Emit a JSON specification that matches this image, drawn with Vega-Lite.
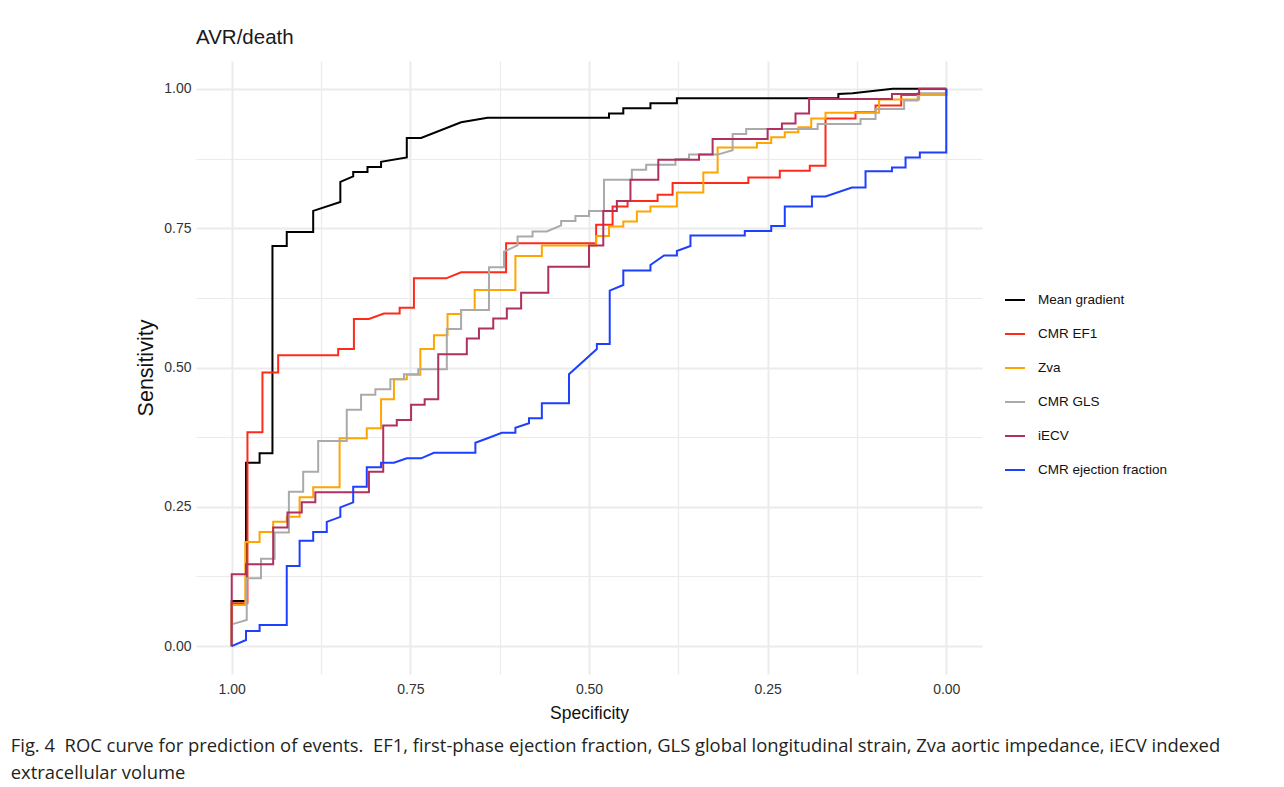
{
"$schema": "https://vega.github.io/schema/vega-lite/v6.json",
"background": "white",
"padding": {"left": 10, "top": 27, "right": 0, "bottom": 0},
"config": {"font": "Liberation Sans", "view": {"stroke": null}},
"title": {"text": ["Fig. 4\u00a0\u00a0ROC curve for prediction of events.\u00a0\u00a0EF1, first-phase ejection fraction, GLS global longitudinal strain, Zva aortic impedance, iECV indexed", "extracellular volume"], "orient": "bottom", "anchor": "start", "frame": "bounds", "dx": -125, "offset": 15, "font": "Open Sans", "fontSize": 18.4, "fontWeight": "normal", "color": "#231f20", "lineHeight": 27},
"vconcat": [{
"width": 786, "height": 613,
"title": {"text": "AVR/death", "anchor": "start", "frame": "group", "font": "Liberation Sans", "fontSize": 20.5, "fontWeight": "normal", "color": "#1a1a1a", "offset": 13},
"data": {"values": [
{"series":"Mean gradient","spec":1,"sens":0},{"series":"Mean gradient","spec":1,"sens":0.081},{"series":"Mean gradient","spec":0.980,"sens":0.081},{"series":"Mean gradient","spec":0.980,"sens":0.329},{"series":"Mean gradient","spec":0.961,"sens":0.329},{"series":"Mean gradient","spec":0.961,"sens":0.346},{"series":"Mean gradient","spec":0.943,"sens":0.346},{"series":"Mean gradient","spec":0.943,"sens":0.718},{"series":"Mean gradient","spec":0.923,"sens":0.718},{"series":"Mean gradient","spec":0.923,"sens":0.743},{"series":"Mean gradient","spec":0.886,"sens":0.743},{"series":"Mean gradient","spec":0.886,"sens":0.781},{"series":"Mean gradient","spec":0.848,"sens":0.797},{"series":"Mean gradient","spec":0.848,"sens":0.833},{"series":"Mean gradient","spec":0.830,"sens":0.843},{"series":"Mean gradient","spec":0.830,"sens":0.851},{"series":"Mean gradient","spec":0.810,"sens":0.851},{"series":"Mean gradient","spec":0.810,"sens":0.860},{"series":"Mean gradient","spec":0.791,"sens":0.860},{"series":"Mean gradient","spec":0.791,"sens":0.869},{"series":"Mean gradient","spec":0.755,"sens":0.877},{"series":"Mean gradient","spec":0.755,"sens":0.912},{"series":"Mean gradient","spec":0.735,"sens":0.912},{"series":"Mean gradient","spec":0.679,"sens":0.940},{"series":"Mean gradient","spec":0.642,"sens":0.948},{"series":"Mean gradient","spec":0.472,"sens":0.948},{"series":"Mean gradient","spec":0.472,"sens":0.956},{"series":"Mean gradient","spec":0.452,"sens":0.956},{"series":"Mean gradient","spec":0.452,"sens":0.965},{"series":"Mean gradient","spec":0.414,"sens":0.965},{"series":"Mean gradient","spec":0.414,"sens":0.974},{"series":"Mean gradient","spec":0.377,"sens":0.974},{"series":"Mean gradient","spec":0.377,"sens":0.983},{"series":"Mean gradient","spec":0.151,"sens":0.983},{"series":"Mean gradient","spec":0.151,"sens":0.991},{"series":"Mean gradient","spec":0.131,"sens":0.992},{"series":"Mean gradient","spec":0.075,"sens":1},{"series":"Mean gradient","spec":0,"sens":1},
{"series":"CMR EF1","spec":1,"sens":0},{"series":"CMR EF1","spec":1,"sens":0.077},{"series":"CMR EF1","spec":0.978,"sens":0.077},{"series":"CMR EF1","spec":0.978,"sens":0.384},{"series":"CMR EF1","spec":0.957,"sens":0.384},{"series":"CMR EF1","spec":0.957,"sens":0.491},{"series":"CMR EF1","spec":0.935,"sens":0.491},{"series":"CMR EF1","spec":0.935,"sens":0.522},{"series":"CMR EF1","spec":0.851,"sens":0.522},{"series":"CMR EF1","spec":0.851,"sens":0.533},{"series":"CMR EF1","spec":0.829,"sens":0.533},{"series":"CMR EF1","spec":0.829,"sens":0.587},{"series":"CMR EF1","spec":0.808,"sens":0.587},{"series":"CMR EF1","spec":0.787,"sens":0.597},{"series":"CMR EF1","spec":0.765,"sens":0.597},{"series":"CMR EF1","spec":0.765,"sens":0.607},{"series":"CMR EF1","spec":0.745,"sens":0.607},{"series":"CMR EF1","spec":0.745,"sens":0.660},{"series":"CMR EF1","spec":0.700,"sens":0.660},{"series":"CMR EF1","spec":0.679,"sens":0.671},{"series":"CMR EF1","spec":0.616,"sens":0.671},{"series":"CMR EF1","spec":0.616,"sens":0.723},{"series":"CMR EF1","spec":0.490,"sens":0.723},{"series":"CMR EF1","spec":0.490,"sens":0.756},{"series":"CMR EF1","spec":0.467,"sens":0.756},{"series":"CMR EF1","spec":0.467,"sens":0.789},{"series":"CMR EF1","spec":0.446,"sens":0.789},{"series":"CMR EF1","spec":0.446,"sens":0.799},{"series":"CMR EF1","spec":0.404,"sens":0.799},{"series":"CMR EF1","spec":0.404,"sens":0.810},{"series":"CMR EF1","spec":0.383,"sens":0.810},{"series":"CMR EF1","spec":0.383,"sens":0.831},{"series":"CMR EF1","spec":0.277,"sens":0.831},{"series":"CMR EF1","spec":0.277,"sens":0.841},{"series":"CMR EF1","spec":0.233,"sens":0.841},{"series":"CMR EF1","spec":0.233,"sens":0.853},{"series":"CMR EF1","spec":0.191,"sens":0.853},{"series":"CMR EF1","spec":0.191,"sens":0.862},{"series":"CMR EF1","spec":0.169,"sens":0.862},{"series":"CMR EF1","spec":0.169,"sens":0.947},{"series":"CMR EF1","spec":0.127,"sens":0.947},{"series":"CMR EF1","spec":0.127,"sens":0.958},{"series":"CMR EF1","spec":0.099,"sens":0.958},{"series":"CMR EF1","spec":0.099,"sens":0.970},{"series":"CMR EF1","spec":0.063,"sens":0.970},{"series":"CMR EF1","spec":0.063,"sens":0.989},{"series":"CMR EF1","spec":0,"sens":0.989},{"series":"CMR EF1","spec":0,"sens":1},
{"series":"Zva","spec":1,"sens":0},{"series":"Zva","spec":1,"sens":0.074},{"series":"Zva","spec":0.981,"sens":0.074},{"series":"Zva","spec":0.981,"sens":0.187},{"series":"Zva","spec":0.961,"sens":0.187},{"series":"Zva","spec":0.961,"sens":0.205},{"series":"Zva","spec":0.942,"sens":0.205},{"series":"Zva","spec":0.942,"sens":0.223},{"series":"Zva","spec":0.923,"sens":0.223},{"series":"Zva","spec":0.923,"sens":0.232},{"series":"Zva","spec":0.905,"sens":0.232},{"series":"Zva","spec":0.905,"sens":0.267},{"series":"Zva","spec":0.886,"sens":0.267},{"series":"Zva","spec":0.886,"sens":0.285},{"series":"Zva","spec":0.849,"sens":0.285},{"series":"Zva","spec":0.849,"sens":0.373},{"series":"Zva","spec":0.811,"sens":0.373},{"series":"Zva","spec":0.811,"sens":0.391},{"series":"Zva","spec":0.791,"sens":0.391},{"series":"Zva","spec":0.791,"sens":0.443},{"series":"Zva","spec":0.773,"sens":0.443},{"series":"Zva","spec":0.773,"sens":0.479},{"series":"Zva","spec":0.755,"sens":0.479},{"series":"Zva","spec":0.755,"sens":0.487},{"series":"Zva","spec":0.736,"sens":0.487},{"series":"Zva","spec":0.736,"sens":0.533},{"series":"Zva","spec":0.717,"sens":0.533},{"series":"Zva","spec":0.717,"sens":0.558},{"series":"Zva","spec":0.698,"sens":0.558},{"series":"Zva","spec":0.698,"sens":0.596},{"series":"Zva","spec":0.679,"sens":0.596},{"series":"Zva","spec":0.679,"sens":0.603},{"series":"Zva","spec":0.660,"sens":0.603},{"series":"Zva","spec":0.660,"sens":0.639},{"series":"Zva","spec":0.603,"sens":0.639},{"series":"Zva","spec":0.603,"sens":0.700},{"series":"Zva","spec":0.566,"sens":0.700},{"series":"Zva","spec":0.566,"sens":0.719},{"series":"Zva","spec":0.490,"sens":0.719},{"series":"Zva","spec":0.490,"sens":0.736},{"series":"Zva","spec":0.472,"sens":0.736},{"series":"Zva","spec":0.472,"sens":0.753},{"series":"Zva","spec":0.452,"sens":0.753},{"series":"Zva","spec":0.452,"sens":0.762},{"series":"Zva","spec":0.433,"sens":0.762},{"series":"Zva","spec":0.433,"sens":0.780},{"series":"Zva","spec":0.414,"sens":0.780},{"series":"Zva","spec":0.414,"sens":0.789},{"series":"Zva","spec":0.377,"sens":0.789},{"series":"Zva","spec":0.377,"sens":0.814},{"series":"Zva","spec":0.340,"sens":0.814},{"series":"Zva","spec":0.340,"sens":0.850},{"series":"Zva","spec":0.320,"sens":0.850},{"series":"Zva","spec":0.320,"sens":0.895},{"series":"Zva","spec":0.265,"sens":0.895},{"series":"Zva","spec":0.265,"sens":0.903},{"series":"Zva","spec":0.245,"sens":0.903},{"series":"Zva","spec":0.245,"sens":0.913},{"series":"Zva","spec":0.226,"sens":0.913},{"series":"Zva","spec":0.226,"sens":0.922},{"series":"Zva","spec":0.207,"sens":0.922},{"series":"Zva","spec":0.207,"sens":0.931},{"series":"Zva","spec":0.189,"sens":0.931},{"series":"Zva","spec":0.189,"sens":0.947},{"series":"Zva","spec":0.169,"sens":0.947},{"series":"Zva","spec":0.169,"sens":0.957},{"series":"Zva","spec":0.094,"sens":0.957},{"series":"Zva","spec":0.094,"sens":0.981},{"series":"Zva","spec":0.038,"sens":0.981},{"series":"Zva","spec":0.038,"sens":0.989},{"series":"Zva","spec":0,"sens":0.989},{"series":"Zva","spec":0,"sens":1},
{"series":"CMR GLS","spec":1,"sens":0},{"series":"CMR GLS","spec":1,"sens":0.039},{"series":"CMR GLS","spec":0.979,"sens":0.047},{"series":"CMR GLS","spec":0.979,"sens":0.122},{"series":"CMR GLS","spec":0.959,"sens":0.122},{"series":"CMR GLS","spec":0.959,"sens":0.157},{"series":"CMR GLS","spec":0.940,"sens":0.157},{"series":"CMR GLS","spec":0.940,"sens":0.204},{"series":"CMR GLS","spec":0.920,"sens":0.204},{"series":"CMR GLS","spec":0.920,"sens":0.277},{"series":"CMR GLS","spec":0.900,"sens":0.277},{"series":"CMR GLS","spec":0.900,"sens":0.313},{"series":"CMR GLS","spec":0.879,"sens":0.313},{"series":"CMR GLS","spec":0.879,"sens":0.368},{"series":"CMR GLS","spec":0.839,"sens":0.368},{"series":"CMR GLS","spec":0.839,"sens":0.424},{"series":"CMR GLS","spec":0.819,"sens":0.424},{"series":"CMR GLS","spec":0.819,"sens":0.451},{"series":"CMR GLS","spec":0.799,"sens":0.451},{"series":"CMR GLS","spec":0.799,"sens":0.461},{"series":"CMR GLS","spec":0.778,"sens":0.461},{"series":"CMR GLS","spec":0.778,"sens":0.479},{"series":"CMR GLS","spec":0.759,"sens":0.479},{"series":"CMR GLS","spec":0.759,"sens":0.488},{"series":"CMR GLS","spec":0.739,"sens":0.488},{"series":"CMR GLS","spec":0.739,"sens":0.497},{"series":"CMR GLS","spec":0.699,"sens":0.497},{"series":"CMR GLS","spec":0.699,"sens":0.569},{"series":"CMR GLS","spec":0.679,"sens":0.569},{"series":"CMR GLS","spec":0.679,"sens":0.603},{"series":"CMR GLS","spec":0.640,"sens":0.603},{"series":"CMR GLS","spec":0.640,"sens":0.680},{"series":"CMR GLS","spec":0.619,"sens":0.680},{"series":"CMR GLS","spec":0.619,"sens":0.708},{"series":"CMR GLS","spec":0.600,"sens":0.719},{"series":"CMR GLS","spec":0.600,"sens":0.735},{"series":"CMR GLS","spec":0.579,"sens":0.735},{"series":"CMR GLS","spec":0.579,"sens":0.744},{"series":"CMR GLS","spec":0.559,"sens":0.744},{"series":"CMR GLS","spec":0.539,"sens":0.755},{"series":"CMR GLS","spec":0.539,"sens":0.763},{"series":"CMR GLS","spec":0.519,"sens":0.763},{"series":"CMR GLS","spec":0.519,"sens":0.772},{"series":"CMR GLS","spec":0.500,"sens":0.772},{"series":"CMR GLS","spec":0.500,"sens":0.781},{"series":"CMR GLS","spec":0.479,"sens":0.781},{"series":"CMR GLS","spec":0.479,"sens":0.837},{"series":"CMR GLS","spec":0.440,"sens":0.837},{"series":"CMR GLS","spec":0.440,"sens":0.855},{"series":"CMR GLS","spec":0.420,"sens":0.855},{"series":"CMR GLS","spec":0.420,"sens":0.864},{"series":"CMR GLS","spec":0.379,"sens":0.864},{"series":"CMR GLS","spec":0.379,"sens":0.874},{"series":"CMR GLS","spec":0.360,"sens":0.874},{"series":"CMR GLS","spec":0.360,"sens":0.882},{"series":"CMR GLS","spec":0.320,"sens":0.882},{"series":"CMR GLS","spec":0.299,"sens":0.890},{"series":"CMR GLS","spec":0.299,"sens":0.919},{"series":"CMR GLS","spec":0.280,"sens":0.919},{"series":"CMR GLS","spec":0.280,"sens":0.928},{"series":"CMR GLS","spec":0.180,"sens":0.928},{"series":"CMR GLS","spec":0.180,"sens":0.937},{"series":"CMR GLS","spec":0.120,"sens":0.937},{"series":"CMR GLS","spec":0.120,"sens":0.946},{"series":"CMR GLS","spec":0.099,"sens":0.946},{"series":"CMR GLS","spec":0.099,"sens":0.964},{"series":"CMR GLS","spec":0.059,"sens":0.964},{"series":"CMR GLS","spec":0.059,"sens":0.979},{"series":"CMR GLS","spec":0.040,"sens":0.979},{"series":"CMR GLS","spec":0.040,"sens":0.992},{"series":"CMR GLS","spec":0,"sens":0.992},{"series":"CMR GLS","spec":0,"sens":1},
{"series":"iECV","spec":1,"sens":0},{"series":"iECV","spec":1,"sens":0.129},{"series":"iECV","spec":0.980,"sens":0.129},{"series":"iECV","spec":0.980,"sens":0.147},{"series":"iECV","spec":0.942,"sens":0.147},{"series":"iECV","spec":0.942,"sens":0.213},{"series":"iECV","spec":0.922,"sens":0.213},{"series":"iECV","spec":0.922,"sens":0.240},{"series":"iECV","spec":0.902,"sens":0.240},{"series":"iECV","spec":0.902,"sens":0.258},{"series":"iECV","spec":0.883,"sens":0.258},{"series":"iECV","spec":0.883,"sens":0.276},{"series":"iECV","spec":0.808,"sens":0.276},{"series":"iECV","spec":0.808,"sens":0.313},{"series":"iECV","spec":0.788,"sens":0.313},{"series":"iECV","spec":0.788,"sens":0.396},{"series":"iECV","spec":0.769,"sens":0.396},{"series":"iECV","spec":0.769,"sens":0.406},{"series":"iECV","spec":0.749,"sens":0.406},{"series":"iECV","spec":0.749,"sens":0.433},{"series":"iECV","spec":0.730,"sens":0.433},{"series":"iECV","spec":0.730,"sens":0.443},{"series":"iECV","spec":0.711,"sens":0.443},{"series":"iECV","spec":0.711,"sens":0.524},{"series":"iECV","spec":0.671,"sens":0.524},{"series":"iECV","spec":0.671,"sens":0.552},{"series":"iECV","spec":0.654,"sens":0.552},{"series":"iECV","spec":0.654,"sens":0.570},{"series":"iECV","spec":0.634,"sens":0.570},{"series":"iECV","spec":0.634,"sens":0.588},{"series":"iECV","spec":0.615,"sens":0.588},{"series":"iECV","spec":0.615,"sens":0.606},{"series":"iECV","spec":0.595,"sens":0.606},{"series":"iECV","spec":0.595,"sens":0.634},{"series":"iECV","spec":0.557,"sens":0.634},{"series":"iECV","spec":0.557,"sens":0.681},{"series":"iECV","spec":0.500,"sens":0.681},{"series":"iECV","spec":0.500,"sens":0.719},{"series":"iECV","spec":0.480,"sens":0.719},{"series":"iECV","spec":0.480,"sens":0.781},{"series":"iECV","spec":0.461,"sens":0.781},{"series":"iECV","spec":0.461,"sens":0.799},{"series":"iECV","spec":0.442,"sens":0.799},{"series":"iECV","spec":0.442,"sens":0.837},{"series":"iECV","spec":0.403,"sens":0.837},{"series":"iECV","spec":0.403,"sens":0.873},{"series":"iECV","spec":0.346,"sens":0.873},{"series":"iECV","spec":0.346,"sens":0.882},{"series":"iECV","spec":0.327,"sens":0.882},{"series":"iECV","spec":0.327,"sens":0.910},{"series":"iECV","spec":0.250,"sens":0.910},{"series":"iECV","spec":0.250,"sens":0.928},{"series":"iECV","spec":0.230,"sens":0.928},{"series":"iECV","spec":0.230,"sens":0.938},{"series":"iECV","spec":0.211,"sens":0.938},{"series":"iECV","spec":0.211,"sens":0.956},{"series":"iECV","spec":0.192,"sens":0.956},{"series":"iECV","spec":0.192,"sens":0.982},{"series":"iECV","spec":0.076,"sens":0.982},{"series":"iECV","spec":0.076,"sens":0.991},{"series":"iECV","spec":0.038,"sens":0.991},{"series":"iECV","spec":0.038,"sens":1},{"series":"iECV","spec":0,"sens":1},
{"series":"CMR ejection fraction","spec":1,"sens":0},{"series":"CMR ejection fraction","spec":0.980,"sens":0.011},{"series":"CMR ejection fraction","spec":0.980,"sens":0.027},{"series":"CMR ejection fraction","spec":0.961,"sens":0.027},{"series":"CMR ejection fraction","spec":0.961,"sens":0.038},{"series":"CMR ejection fraction","spec":0.923,"sens":0.038},{"series":"CMR ejection fraction","spec":0.923,"sens":0.144},{"series":"CMR ejection fraction","spec":0.905,"sens":0.144},{"series":"CMR ejection fraction","spec":0.905,"sens":0.189},{"series":"CMR ejection fraction","spec":0.886,"sens":0.189},{"series":"CMR ejection fraction","spec":0.886,"sens":0.205},{"series":"CMR ejection fraction","spec":0.867,"sens":0.205},{"series":"CMR ejection fraction","spec":0.867,"sens":0.223},{"series":"CMR ejection fraction","spec":0.848,"sens":0.232},{"series":"CMR ejection fraction","spec":0.848,"sens":0.249},{"series":"CMR ejection fraction","spec":0.830,"sens":0.258},{"series":"CMR ejection fraction","spec":0.830,"sens":0.286},{"series":"CMR ejection fraction","spec":0.811,"sens":0.286},{"series":"CMR ejection fraction","spec":0.811,"sens":0.321},{"series":"CMR ejection fraction","spec":0.791,"sens":0.321},{"series":"CMR ejection fraction","spec":0.791,"sens":0.329},{"series":"CMR ejection fraction","spec":0.773,"sens":0.329},{"series":"CMR ejection fraction","spec":0.755,"sens":0.337},{"series":"CMR ejection fraction","spec":0.735,"sens":0.337},{"series":"CMR ejection fraction","spec":0.717,"sens":0.347},{"series":"CMR ejection fraction","spec":0.659,"sens":0.347},{"series":"CMR ejection fraction","spec":0.659,"sens":0.365},{"series":"CMR ejection fraction","spec":0.642,"sens":0.373},{"series":"CMR ejection fraction","spec":0.622,"sens":0.383},{"series":"CMR ejection fraction","spec":0.603,"sens":0.383},{"series":"CMR ejection fraction","spec":0.603,"sens":0.392},{"series":"CMR ejection fraction","spec":0.584,"sens":0.400},{"series":"CMR ejection fraction","spec":0.584,"sens":0.409},{"series":"CMR ejection fraction","spec":0.566,"sens":0.409},{"series":"CMR ejection fraction","spec":0.566,"sens":0.436},{"series":"CMR ejection fraction","spec":0.528,"sens":0.436},{"series":"CMR ejection fraction","spec":0.528,"sens":0.488},{"series":"CMR ejection fraction","spec":0.489,"sens":0.533},{"series":"CMR ejection fraction","spec":0.489,"sens":0.542},{"series":"CMR ejection fraction","spec":0.471,"sens":0.542},{"series":"CMR ejection fraction","spec":0.471,"sens":0.638},{"series":"CMR ejection fraction","spec":0.452,"sens":0.648},{"series":"CMR ejection fraction","spec":0.452,"sens":0.674},{"series":"CMR ejection fraction","spec":0.414,"sens":0.674},{"series":"CMR ejection fraction","spec":0.414,"sens":0.684},{"series":"CMR ejection fraction","spec":0.395,"sens":0.701},{"series":"CMR ejection fraction","spec":0.377,"sens":0.701},{"series":"CMR ejection fraction","spec":0.377,"sens":0.709},{"series":"CMR ejection fraction","spec":0.358,"sens":0.718},{"series":"CMR ejection fraction","spec":0.358,"sens":0.737},{"series":"CMR ejection fraction","spec":0.282,"sens":0.737},{"series":"CMR ejection fraction","spec":0.282,"sens":0.745},{"series":"CMR ejection fraction","spec":0.245,"sens":0.745},{"series":"CMR ejection fraction","spec":0.245,"sens":0.754},{"series":"CMR ejection fraction","spec":0.226,"sens":0.754},{"series":"CMR ejection fraction","spec":0.226,"sens":0.789},{"series":"CMR ejection fraction","spec":0.188,"sens":0.789},{"series":"CMR ejection fraction","spec":0.188,"sens":0.807},{"series":"CMR ejection fraction","spec":0.169,"sens":0.807},{"series":"CMR ejection fraction","spec":0.132,"sens":0.823},{"series":"CMR ejection fraction","spec":0.113,"sens":0.823},{"series":"CMR ejection fraction","spec":0.113,"sens":0.852},{"series":"CMR ejection fraction","spec":0.076,"sens":0.852},{"series":"CMR ejection fraction","spec":0.076,"sens":0.859},{"series":"CMR ejection fraction","spec":0.057,"sens":0.859},{"series":"CMR ejection fraction","spec":0.057,"sens":0.877},{"series":"CMR ejection fraction","spec":0.037,"sens":0.877},{"series":"CMR ejection fraction","spec":0.037,"sens":0.886},{"series":"CMR ejection fraction","spec":0,"sens":0.886},{"series":"CMR ejection fraction","spec":0,"sens":1}
]},
"mark": {"type": "line", "strokeWidth": 2, "strokeJoin": "miter"},
"encoding": {
"x": {"field": "spec", "type": "quantitative", "title": "Specificity",
 "scale": {"domain": [-0.05, 1.05], "reverse": true, "nice": false, "zero": false},
 "axis": {"values": [0, 0.125, 0.25, 0.375, 0.5, 0.625, 0.75, 0.875, 1], "labelExpr": "datum.value % 0.25 === 0 ? format(datum.value, '.2f') : ''", "grid": true, "gridColor": "#EBEBEB", "gridWidth": {"condition": {"test": "datum.value % 0.25 === 0", "value": 2}, "value": 1.2}, "ticks": false, "domain": false, "labelFontSize": 14, "labelColor": "#333333", "labelPadding": 8, "labelFlush": false, "titleFontSize": 17.5, "titleFontWeight": "normal", "titleColor": "#111111", "titlePadding": 8}},
"y": {"field": "sens", "type": "quantitative", "title": "Sensitivity",
 "scale": {"domain": [-0.05, 1.05], "nice": false, "zero": false},
 "axis": {"values": [0, 0.125, 0.25, 0.375, 0.5, 0.625, 0.75, 0.875, 1], "labelExpr": "datum.value % 0.25 === 0 ? format(datum.value, '.2f') : ''", "grid": true, "gridColor": "#EBEBEB", "gridWidth": {"condition": {"test": "datum.value % 0.25 === 0", "value": 2}, "value": 1.2}, "ticks": false, "domain": false, "labelFontSize": 14, "labelColor": "#333333", "labelPadding": 5, "labelFlush": false, "titleFontSize": 21.5, "titleFontWeight": "normal", "titleColor": "#111111", "titlePadding": 6}},
"color": {"field": "series", "type": "nominal",
 "scale": {"domain": ["Mean gradient", "CMR EF1", "Zva", "CMR GLS", "iECV", "CMR ejection fraction"], "range": ["#000000", "#FF2A1A", "#FFA500", "#AAAAAA", "#B03060", "#1F3FFF"]},
 "legend": {"title": null, "orient": "none", "legendX": 808, "legendY": 228, "padding": 0, "symbolType": "stroke", "symbolSize": 400, "symbolStrokeWidth": 2, "labelFontSize": 13.5, "labelColor": "#111111", "labelOffset": 12, "rowPadding": 16}},
"order": {"value": null}
}
}]
}
